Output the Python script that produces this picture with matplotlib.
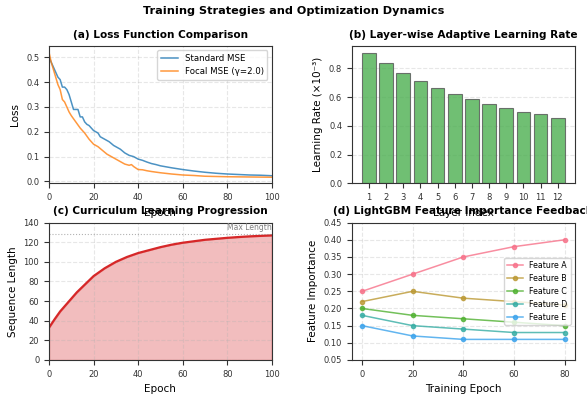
import numpy as np
import matplotlib.pyplot as plt
import seaborn as sns

# (a) loss curves
mse_epoch = [0, 1, 2, 3, 4, 5, 6, 7, 8, 9, 10, 11, 12, 13, 14, 15, 16, 17, 18, 19, 20,
             21, 22, 23, 25, 27, 29, 30, 32, 34, 36, 38, 40, 42, 44, 46, 48, 50,
             55, 60, 65, 70, 75, 80, 85, 90, 95, 100]
mse_loss = [0.50, 0.48, 0.46, 0.44, 0.42, 0.41, 0.38, 0.38, 0.37, 0.35, 0.32, 0.29, 0.29,
            0.29, 0.26, 0.26, 0.24, 0.23, 0.225, 0.215, 0.205, 0.20, 0.195, 0.18, 0.17,
            0.16, 0.145, 0.14, 0.13, 0.115, 0.105, 0.10, 0.09, 0.085, 0.078, 0.072, 0.068,
            0.063, 0.055, 0.048, 0.042, 0.037, 0.033, 0.030, 0.028, 0.026, 0.025, 0.023]
focal_epoch = [0, 1, 2, 3, 4, 5, 6, 7, 8, 9, 10, 12, 14, 16, 18, 20, 22, 24, 26, 28, 30,
               32, 34, 36, 37, 38, 40, 42, 44, 46, 50, 55, 60, 65, 70, 75, 80, 90, 100]
focal_loss = [0.52, 0.48, 0.45, 0.42, 0.39, 0.37, 0.33, 0.32, 0.30, 0.28, 0.265, 0.24,
              0.215, 0.195, 0.17, 0.15, 0.14, 0.125, 0.11, 0.10, 0.09, 0.08, 0.07, 0.065,
              0.068, 0.06, 0.048, 0.047, 0.043, 0.04, 0.035, 0.03, 0.026, 0.024, 0.021,
              0.02, 0.019, 0.018, 0.017]

# (b) layer-wise learning rate
layers = list(range(1, 13))
layer_lr = [0.91, 0.835, 0.765, 0.715, 0.665, 0.625, 0.585, 0.555, 0.525, 0.50, 0.48, 0.455]

# (c) curriculum
cur_epoch = [0, 2.5, 5, 7.5, 10, 12.5, 15, 20, 25, 30, 35, 40, 45, 50, 55, 60, 65, 70, 75,
             80, 85, 90, 95, 100]
seq_len = [33, 41.5, 49.5, 56, 62.5, 69, 74.5, 85.5, 93.5, 100, 105, 109, 112, 115,
           117.5, 119.5, 121, 122.5, 123.5, 124.5, 125.3, 126, 126.5, 127]
max_len = 128

# (d) feature importance
fi_epoch = [0, 20, 40, 60, 80]
features = ['Feature A', 'Feature B', 'Feature C', 'Feature D', 'Feature E']
fi_values = [
    [0.25, 0.30, 0.35, 0.38, 0.40],
    [0.22, 0.25, 0.23, 0.22, 0.21],
    [0.20, 0.18, 0.17, 0.16, 0.15],
    [0.18, 0.15, 0.14, 0.13, 0.13],
    [0.15, 0.12, 0.11, 0.11, 0.11],
]

plt.rcParams.update({
    'font.size': 7,
    'axes.titlesize': 7.6,
    'axes.titleweight': 'bold',
    'axes.labelsize': 7.5,
    'xtick.labelsize': 6,
    'ytick.labelsize': 6,
    'axes.edgecolor': '#333333',
    'xtick.color': '#333333',
    'ytick.color': '#333333',
})

fig, axes = plt.subplots(2, 2, figsize=(5.87, 3.94), dpi=100)
plt.subplots_adjust(left=0.0835, right=0.979, top=0.883, bottom=0.0863,
                    hspace=0.285, wspace=0.36)
fig.suptitle('Training Strategies and Optimization Dynamics', fontsize=8.1, fontweight='bold', y=0.985)

# (a)
ax = axes[0, 0]
ax.plot(mse_epoch, mse_loss, color='tab:blue', alpha=0.8, lw=1.1, label='Standard MSE')
ax.plot(focal_epoch, focal_loss, color='tab:orange', alpha=0.8, lw=1.1, label='Focal MSE (γ=2.0)')
ax.set_xlim(0, 100)
ax.set_title('(a) Loss Function Comparison')
ax.set_xlabel('Epoch')
ax.set_ylabel('Loss')
ax.legend(loc='upper right', fontsize=6.2)
ax.grid(True, linestyle='--', alpha=0.3)

# (b)
ax = axes[0, 1]
ax.bar(layers, layer_lr, color='#4CAF50', alpha=0.8, edgecolor='#555555', linewidth=0.8)
ax.set_xticks(layers)
ax.set_title('(b) Layer-wise Adaptive Learning Rate')
ax.set_xlabel('Layer Index')
ax.set_ylabel('Learning Rate (×10⁻³)')
ax.grid(True, axis='y', linestyle='--', alpha=0.3)
ax.set_axisbelow(True)

# (c)
ax = axes[1, 0]
ax.plot(cur_epoch, seq_len, color='#d62728', lw=1.6)
ax.fill_between(cur_epoch, seq_len, color='#d62728', alpha=0.3)
ax.axhline(max_len, color='gray', linestyle=':', lw=0.8, alpha=0.6)
ax.text(100, max_len + 2, 'Max Length', fontsize=5.5, color='gray', ha='right', va='bottom')
ax.set_xlim(0, 100)
ax.set_ylim(0, 140)
ax.set_title('(c) Curriculum Learning Progression')
ax.set_xlabel('Epoch')
ax.set_ylabel('Sequence Length')
ax.grid(True, linestyle='--', alpha=0.3)

# (d)
ax = axes[1, 1]
colors = sns.color_palette('husl', 6)[:len(features)]
for name, vals, c in zip(features, fi_values, colors):
    ax.plot(fi_epoch, vals, marker='o', markersize=3, lw=1.1, color=c, alpha=0.8, label=name)
ax.set_ylim(0.05, 0.45)
ax.set_title('(d) LightGBM Feature Importance Feedback')
ax.set_xlabel('Training Epoch')
ax.set_ylabel('Feature Importance')
ax.legend(loc='center right', fontsize=5.7)
ax.grid(True, linestyle='--', alpha=0.3)

fig.savefig('out.png', dpi=100)
